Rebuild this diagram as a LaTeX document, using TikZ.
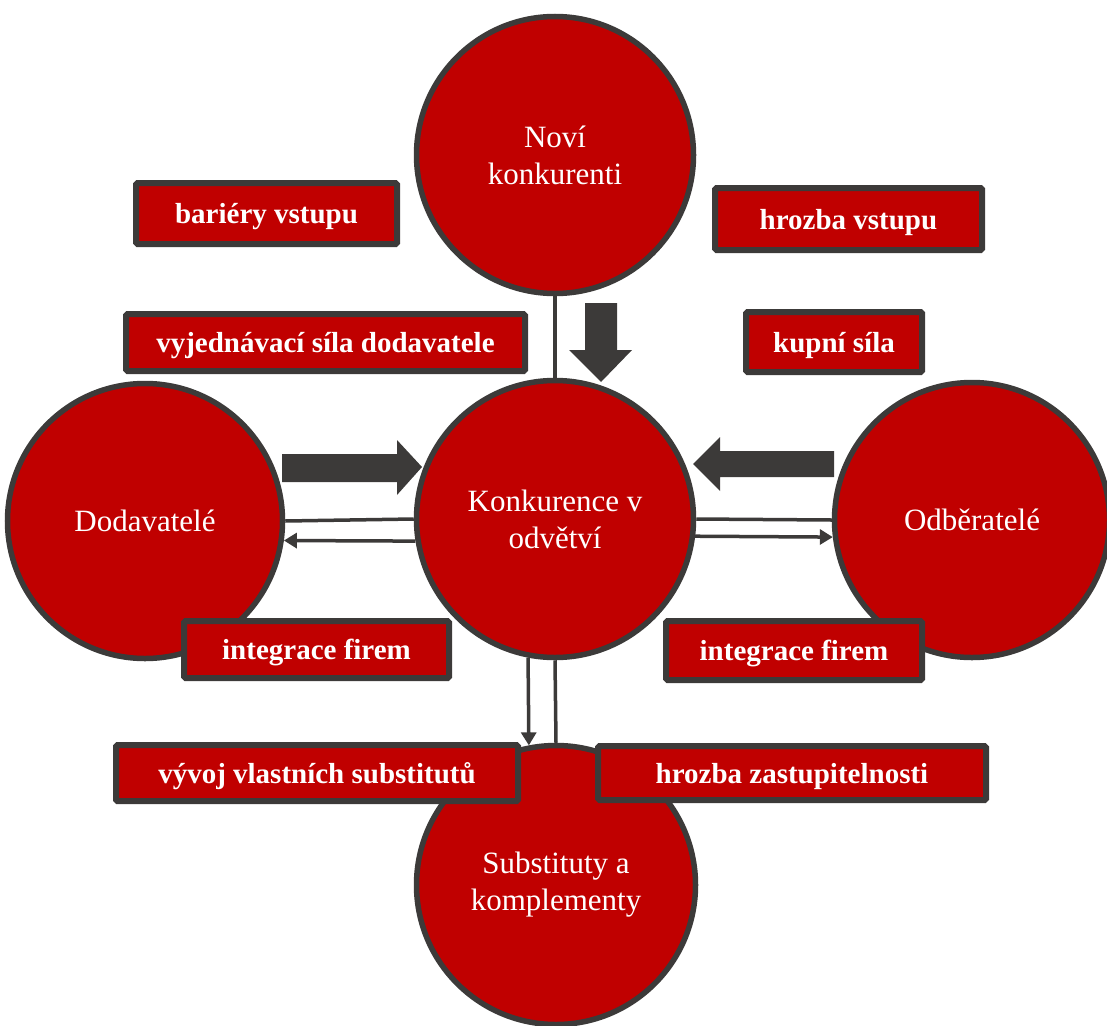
\documentclass[tikz,border=0pt]{standalone}
\usepackage{fontspec}
\setmainfont{Liberation Serif}
\usetikzlibrary{arrows.meta}
\definecolor{dred}{HTML}{C00000}
\definecolor{dgray}{HTML}{3C3A39}
\begin{document}
\begin{tikzpicture}[x=1pt,y=-1pt,
  circ/.style={circle,draw=dgray,line width=5.5pt,fill=dred,minimum size=277pt,
    text=white,align=center,font=\fontsize{31}{37}\selectfont,inner sep=0pt},
  lbl/.style={rectangle,draw=dgray,line width=6pt,fill=dred,text=white,
    font=\fontsize{29}{34}\selectfont\bfseries,rounded corners=1.5pt,inner sep=0pt,
    text depth=0pt},
  thinline/.style={draw=dgray,line width=3.5pt},
  tipped/.style={thinline,-{Triangle[length=13pt,width=15pt]}},
  block/.style={fill=dgray}]
\useasboundingbox (0,0) rectangle (1107,1025);
\clip (0,0) rectangle (1107,1025);

% circles
\node[circ] (top) at (555,155) {Noví\\konkurenti};
\node[circ] (center) at (555,519) {Konkurence v\\odvětví};
\node[circ,minimum size=275pt] (left) at (145,521) {Dodavatelé};
\node[circ,minimum size=275pt] (right) at (972,520) {Odběratelé};
\node[circ,minimum size=279pt] (bottom) at (556,885) {Substituty a\\komplementy};

% thin connectors
\draw[thinline] (top.south) -- (center.north);
\draw[thinline] (left.0) -- (center.180);
\draw[tipped] (center.189.4) -- (left.-8.6);
\draw[thinline] (center.0) -- (right.180);
\draw[tipped] (center.-7.7) -- (right.187.4);
\draw[tipped] (center.259) -- (bottom.101.4);
\draw[thinline] (center.south) -- (bottom.north);

% block arrows
\fill[block] (585,303) -- (617,303) -- (617,350) -- (632,350) -- (601,382) -- (569,350) -- (585,350) -- cycle;
\fill[block] (282,454) -- (397,454) -- (397,440) -- (422,467) -- (397,495) -- (397,482) -- (282,482) -- cycle;
\fill[block] (834,451) -- (720,451) -- (720,437) -- (693,464) -- (720,491) -- (720,477) -- (834,477) -- cycle;

% labels
\node[lbl,minimum width=261pt,minimum height=61pt] (bar) at (266.5,213.5) {bariéry vstupu};
\node[lbl,minimum width=267pt,minimum height=62pt] (hv) at (848.5,219) {hrozba vstupu};
\node[lbl,minimum width=399pt,minimum height=57pt] (vs) at (325.5,342.5) {vyjednávací síla dodavatele};
\node[lbl,minimum width=176pt,minimum height=60pt] (ks) at (834,342) {kupní síla};
\node[lbl,minimum width=265pt,minimum height=57pt] (ifl) at (316.5,649.5) {integrace firem};
\node[lbl,minimum width=256pt,minimum height=59pt] (ifr) at (794,650.5) {integrace firem};
\node[lbl,minimum width=402pt,minimum height=56pt] (vv) at (317,773) {vývoj vlastních substitutů};
\node[lbl,minimum width=388pt,minimum height=54pt] (hz) at (792,773) {hrozba zastupitelnosti};
\end{tikzpicture}
\end{document}
